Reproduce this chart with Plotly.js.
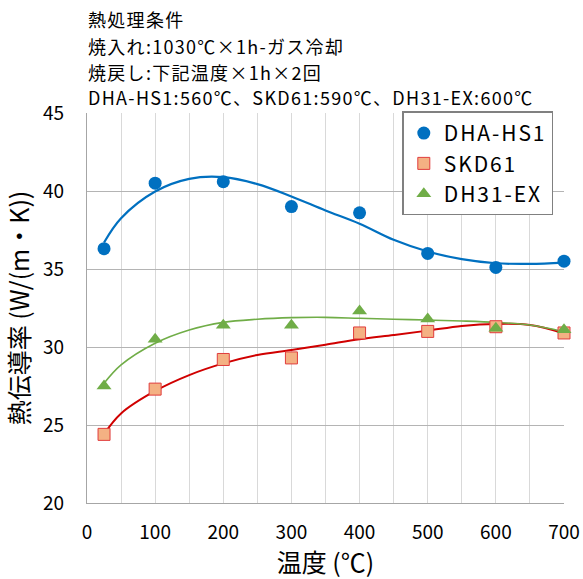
<!DOCTYPE html>
<html>
<head>
<meta charset="utf-8">
<script src="https://cdn.plot.ly/plotly-3.0.1.min.js"></script>
<style>
html,body{margin:0;padding:0;background:#fff;}
#chart{width:583px;height:579px;}
.annotation-text{letter-spacing:1.3px;}
.legendtext{letter-spacing:1.9px;}
</style>
</head>
<body>
<div id="chart"></div>
<script>
// Measured data
const temps = [25, 100, 200, 300, 400, 500, 600, 700];
const dhaHs1 = [36.3, 40.5, 40.6, 39.0, 38.6, 36.0, 35.1, 35.5];
const skd61 = [24.4, 27.3, 29.2, 29.3, 30.9, 31.0, 31.3, 30.9];
const dh31Ex = [27.5, 30.5, 31.4, 31.4, 32.3, 31.8, 31.2, 31.1];

// Trend curves
const fitX = [25, 50, 100, 150, 200, 250, 300, 350, 400, 450, 500, 550, 600, 650, 700];
const dhaFit = [36.7, 38.26, 39.97, 40.78, 40.89, 40.44, 39.65, 38.75, 37.9, 36.87, 36.12, 35.63, 35.37, 35.33, 35.41];
const skdFit = [24.42, 25.74, 27.18, 28.2, 28.95, 29.49, 29.81, 30.15, 30.5, 30.77, 31.05, 31.35, 31.48, 31.41, 30.88];
const dh31Fit = [27.67, 28.85, 30.24, 31.09, 31.58, 31.78, 31.88, 31.9, 31.84, 31.78, 31.73, 31.67, 31.58, 31.41, 30.98];

const seriesNames = ['DHA-HS1', 'SKD61', 'DH31-EX'];
const noteLines = ['熱処理条件', '焼入れ:1030℃×1h-ガス冷却', '焼戻し:下記温度×1h×2回', 'DHA-HS1:560℃、SKD61:590℃、DH31-EX:600℃'];
const xTitle = '温度 (℃)';
const yTitle = '熱伝導率 (W/(m・K))';

const FONT = '"Noto Sans CJK JP", "Noto Sans", sans-serif';
const noteY = [19, 46, 72, 97];

const traces = [
  {x: fitX, y: dhaFit, mode: 'lines', line: {color: '#0070c0', width: 2.2, shape: 'spline'}, showlegend: false, hoverinfo: 'skip'},
  {x: fitX, y: skdFit, mode: 'lines', line: {color: '#d00000', width: 2, shape: 'spline'}, showlegend: false, hoverinfo: 'skip'},
  {x: fitX, y: dh31Fit, mode: 'lines', line: {color: '#70ad47', width: 1.6, shape: 'spline'}, showlegend: false, hoverinfo: 'skip'},
  {x: temps, y: dhaHs1, name: seriesNames[0], mode: 'markers', cliponaxis: false, marker: {symbol: 'circle', size: 13, color: '#0070c0'}},
  {x: temps, y: skd61, name: seriesNames[1], mode: 'markers', cliponaxis: false, marker: {symbol: 'square', size: 12, color: '#f4b183', line: {color: '#e03c3c', width: 1}}},
  {x: temps, y: dh31Ex, name: seriesNames[2], mode: 'markers', cliponaxis: false, marker: {symbol: 'triangle-up', size: 13, color: '#70ad47'}}
];

const annotations = noteLines.map((t, i) => ({
  text: t, xref: 'paper', yref: 'paper', x: -0.002, xanchor: 'left',
  y: 1 + (113 - noteY[i]) / 390, yanchor: 'middle',
  showarrow: false, font: {family: FONT, size: 18, color: '#000'}
}));

const layout = {
  width: 583, height: 579,
  margin: {l: 87, r: 19, t: 113, b: 76},
  paper_bgcolor: '#fff', plot_bgcolor: '#fff',
  font: {family: FONT, color: '#000'},
  showlegend: true,
  legend: {
    x: 0.661, y: 1.004, xanchor: 'left', yanchor: 'top',
    bordercolor: '#808080', borderwidth: 1.5, bgcolor: '#fff',
    font: {family: FONT, size: 21, color: '#000'},
    itemwidth: 30
  },
  xaxis: {
    range: [0, 700], dtick: 100, tick0: 0,
    showgrid: true, gridcolor: '#d9d9d9', gridwidth: 1,
    minor: {dtick: 50, showgrid: true, gridcolor: '#d9d9d9', gridwidth: 1},
    showline: true, linecolor: '#a6a6a6', linewidth: 1.2,
    zeroline: false, ticks: '', ticklabelstandoff: 12,
    tickfont: {family: FONT, size: 19, color: '#000'},
    title: {text: xTitle, font: {family: FONT, size: 25, color: '#000'}, standoff: 10}
  },
  yaxis: {
    range: [20, 45], dtick: 5,
    showgrid: true, gridcolor: '#b4b4b4', gridwidth: 1,
    showline: true, linecolor: '#a6a6a6', linewidth: 1.2,
    zeroline: false, ticks: '', ticklabelstandoff: 18,
    tickfont: {family: FONT, size: 19, color: '#000'},
    title: {text: yTitle, font: {family: FONT, size: 25, color: '#000'}, standoff: 8}
  },
  annotations: annotations
};

Plotly.newPlot('chart', traces, layout, {displayModeBar: false, staticPlot: true});
</script>
</body>
</html>
